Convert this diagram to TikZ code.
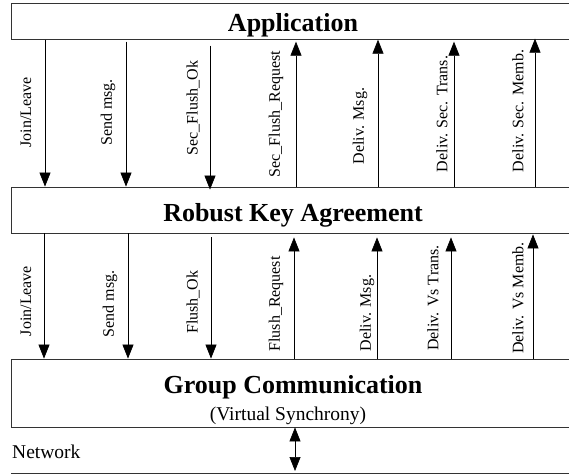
\documentclass[tikz,border=0pt]{standalone}
\usepackage{fontspec}
\setmainfont{Liberation Serif}
\usetikzlibrary{arrows.meta}
\begin{document}
\begin{tikzpicture}[x=1pt,y=-1pt,
  layer/.style={draw=black!80,line width=0.8pt,inner sep=0pt,minimum width=564pt},
  title/.style={font=\fontsize{26}{30}\selectfont\bfseries,inner sep=0pt,anchor=base},
  sub/.style={font=\fontsize{19.5}{22}\selectfont,inner sep=0pt,anchor=base},
  lab/.style={rotate=90,font=\fontsize{16}{18}\selectfont,inner sep=0pt},
  arr/.style={line width=0.7pt,-{Triangle[width=11pt,length=14pt]}},
  darr/.style={line width=0.7pt,{Triangle[width=11pt,length=14pt]}-{Triangle[width=11pt,length=14pt]}}]
\useasboundingbox (0,0) rectangle (569,474);
% layers
\node[layer,minimum height=36pt] (app) at (293,21.3) {};
\node[title] (appt) at (293,31.7) {Application};
\node[layer,minimum height=46pt] (rka) at (293.5,210) {};
\node[title] (rkat) at (293,221.7) {Robust Key Agreement};
\node[layer,minimum height=68pt] (gc) at (293,393) {};
\node[title] (gct) at (293,393) {Group Communication};
\node[sub] (gcs) at (288,420) {(Virtual Synchrony)};
\node[sub,anchor=base west] (net) at (12,458) {Network};
\coordinate (netl) at (11,473);
\coordinate (netr) at (575,473);
\draw[black!80,line width=0.8pt] (netl) -- (netr);
% columns
\coordinate (u1) at (45,0);  \coordinate (u2) at (126,0); \coordinate (u3) at (210,0);
\coordinate (u4) at (296,0); \coordinate (u5) at (378,0); \coordinate (u6) at (454,0);
\coordinate (u7) at (535,0);
\coordinate (l1) at (44,0);  \coordinate (l2) at (128,0); \coordinate (l3) at (211,0);
\coordinate (l4) at (294,0); \coordinate (l5) at (377,0); \coordinate (l6) at (451,0);
\coordinate (l7) at (533,0);
\coordinate (nc) at (295,0);
% upper arrows
\draw[arr] (app.south -| u1) -- (rka.north -| u1);
\draw[arr,shorten <=2pt] (app.south -| u2) -- (rka.north -| u2);
\draw[arr,shorten <=6pt,shorten >=-3pt] (app.south -| u3) -- (rka.north -| u3);
\draw[arr,shorten >=2pt] (rka.north -| u4) -- (app.south -| u4);
\draw[arr] (rka.north -| u5) -- (app.south -| u5);
\draw[arr,shorten >=2pt] (rka.north -| u6) -- (app.south -| u6);
\draw[arr,shorten >=-1pt] (rka.north -| u7) -- (app.south -| u7);
\node[lab] (t1) at (26,112.5) {Join/Leave};
\node[lab] (t2) at (108,112.5) {Send msg.};
\node[lab] (t3) at (193,108) {Sec\_Flush\_Ok};
\node[lab] (t4) at (276,114) {Sec\_Flush\_Request};
\node[lab] (t5) at (360,126) {Deliv. Msg.};
\node[lab] (t6) at (442,114) {Deliv. Sec. Trans.};
\node[lab] (t7) at (518,111) {Deliv. Sec. Memb.};
% lower arrows
\draw[arr] (rka.south -| l1) -- (gc.north -| l1);
\draw[arr] (rka.south -| l2) -- (gc.north -| l2);
\draw[arr,shorten <=4pt] (rka.south -| l3) -- (gc.north -| l3);
\draw[arr,shorten >=4pt] (gc.north -| l4) -- (rka.south -| l4);
\draw[arr,shorten >=4pt] (gc.north -| l5) -- (rka.south -| l5);
\draw[arr,shorten >=4pt] (gc.north -| l6) -- (rka.south -| l6);
\draw[arr,shorten >=1pt] (gc.north -| l7) -- (rka.south -| l7);
\node[lab] (b1) at (26,301) {Join/Leave};
\node[lab] (b2) at (110,304) {Send msg.};
\node[lab] (b3) at (193,302) {Flush\_Ok};
\node[lab] (b4) at (276,304) {Flush\_Request};
\node[lab] (b5) at (367,313) {Deliv. Msg.};
\node[lab] (b6) at (433,298) {Deliv. Vs Trans.};
\node[lab] (b7) at (518,298) {Deliv. Vs Memb.};
% network
\draw[darr,shorten >=2pt] (gc.south -| nc) -- (netl -| nc);
\end{tikzpicture}
\end{document}
